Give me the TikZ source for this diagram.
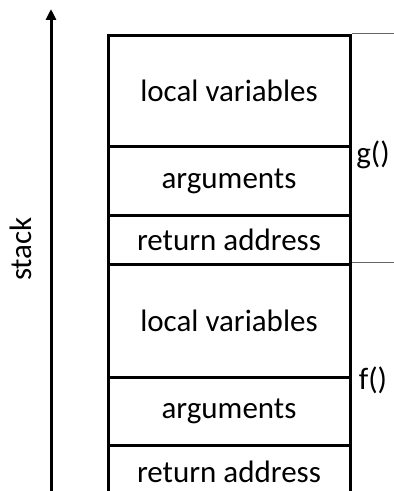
\documentclass[tikz,border=0pt]{standalone}
\usepackage{fontspec}
\setmainfont{Carlito}
\usetikzlibrary{arrows.meta}
\begin{document}
\begin{tikzpicture}[x=1pt,y=1pt,
  seg/.style={draw=black, line width=3pt, minimum width=242pt, inner sep=0pt, anchor=north, font=\fontsize{31}{36}\selectfont},
  lbl/.style={font=\fontsize{31}{36}\selectfont, inner sep=0pt},
  thin/.style={draw=black!60, line width=1pt}]
\useasboundingbox (0,0) rectangle (394,491);
\clip (0,0) rectangle (394,491);
% segments (y measured from top: y = 491 - py)
\node[seg, minimum height=111pt] (glv) at (229,457) {local variables};
\node[seg, minimum height=69pt] (garg) at (229,346) {arguments};
\node[seg, minimum height=49pt] (gret) at (229,277) {return address};
\node[seg, minimum height=113pt] (flv) at (229,228) {local variables};
\node[seg, minimum height=68pt] (farg) at (229,115) {arguments};
\node[seg, minimum height=52pt] (fret) at (229,47) {return address};
% function labels
\node[lbl] (g) at (373,336) {g()};
\node[lbl] (f) at (373,111) {f()};
% frame boundary markers
\coordinate (gend) at (394,457);
\coordinate (fend) at (394,228);
\draw[thin] (glv.north east) -- (gend);
\draw[thin] (flv.north east) -- (fend);
% stack arrow
\coordinate (abot) at (51,-5);
\coordinate (atop) at (51,482);
\draw[line width=3pt, -{Triangle[length=11pt,width=10pt]}] (abot) -- (atop);
\node[lbl, rotate=90] (stk) at (21,242) {stack};
\end{tikzpicture}
\end{document}
